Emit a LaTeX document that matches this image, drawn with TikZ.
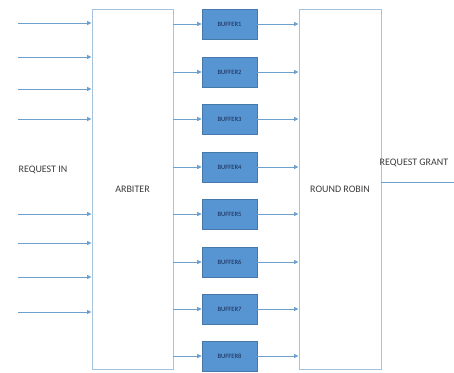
\documentclass[tikz,border=0pt]{standalone}
\usepackage{fontspec}
\setmainfont{Carlito}
\usetikzlibrary{arrows.meta}
\definecolor{linec}{RGB}{110,160,205}
\definecolor{boxc}{RGB}{165,195,220}
\definecolor{buffill}{RGB}{86,148,210}
\definecolor{bufdraw}{RGB}{70,120,170}
\definecolor{buftext}{RGB}{25,40,80}
\definecolor{txt}{RGB}{60,60,60}
\begin{document}
\begin{tikzpicture}[x=1pt,y=-1pt,
  bigbox/.style={draw=boxc,line width=0.9pt,fill=white,minimum width=81pt,minimum height=360pt,inner sep=0pt,text=txt,font=\fontsize{10}{10}\selectfont},
  bufbox/.style={draw=bufdraw,line width=0.6pt,fill=buffill,minimum width=55pt,minimum height=30pt,inner sep=0pt,text=buftext,font=\fontsize{6.5}{6.5}\selectfont},
  arr/.style={draw=linec,line width=0.9pt,-{Triangle[length=4.5pt,width=4pt]}},
  lbl/.style={text=txt,font=\fontsize{10}{10}\selectfont,inner sep=0pt}]
\useasboundingbox (0,0) rectangle (454,372);
\node[bigbox] (arb) at (132.5,189) {\raisebox{-4pt}{ARBITER}};
\node[bigbox,minimum width=82pt] (rr) at (340,189) {\raisebox{-4pt}{ROUND ROBIN}};
\node[lbl] (reqin) at (43,170) {REQUEST IN};
\node[lbl] (reqgr) at (414,163) {REQUEST GRANT};
\foreach \i/\y in {1/24,2/72,3/119,4/167,5/214,6/262,7/309,8/356}{
  \node[bufbox] (b\i) at (229.5,\y) {BUFFER\i};
  \draw[arr] (arb.east |- b\i) -- (b\i.west);
  \draw[arr] (b\i.east) -- (rr.west |- b\i);
}
\foreach \i/\y in {1/23,2/57,3/89,4/119,5/214,6/243,7/277,8/312}{
  \coordinate (in\i) at (18,\y);
  \draw[arr] (in\i) -- (in\i -| arb.west);
}
\coordinate (out) at (454,182);
\draw[draw=linec,line width=0.9pt] (rr.east |- out) -- (out);
\end{tikzpicture}
\end{document}
